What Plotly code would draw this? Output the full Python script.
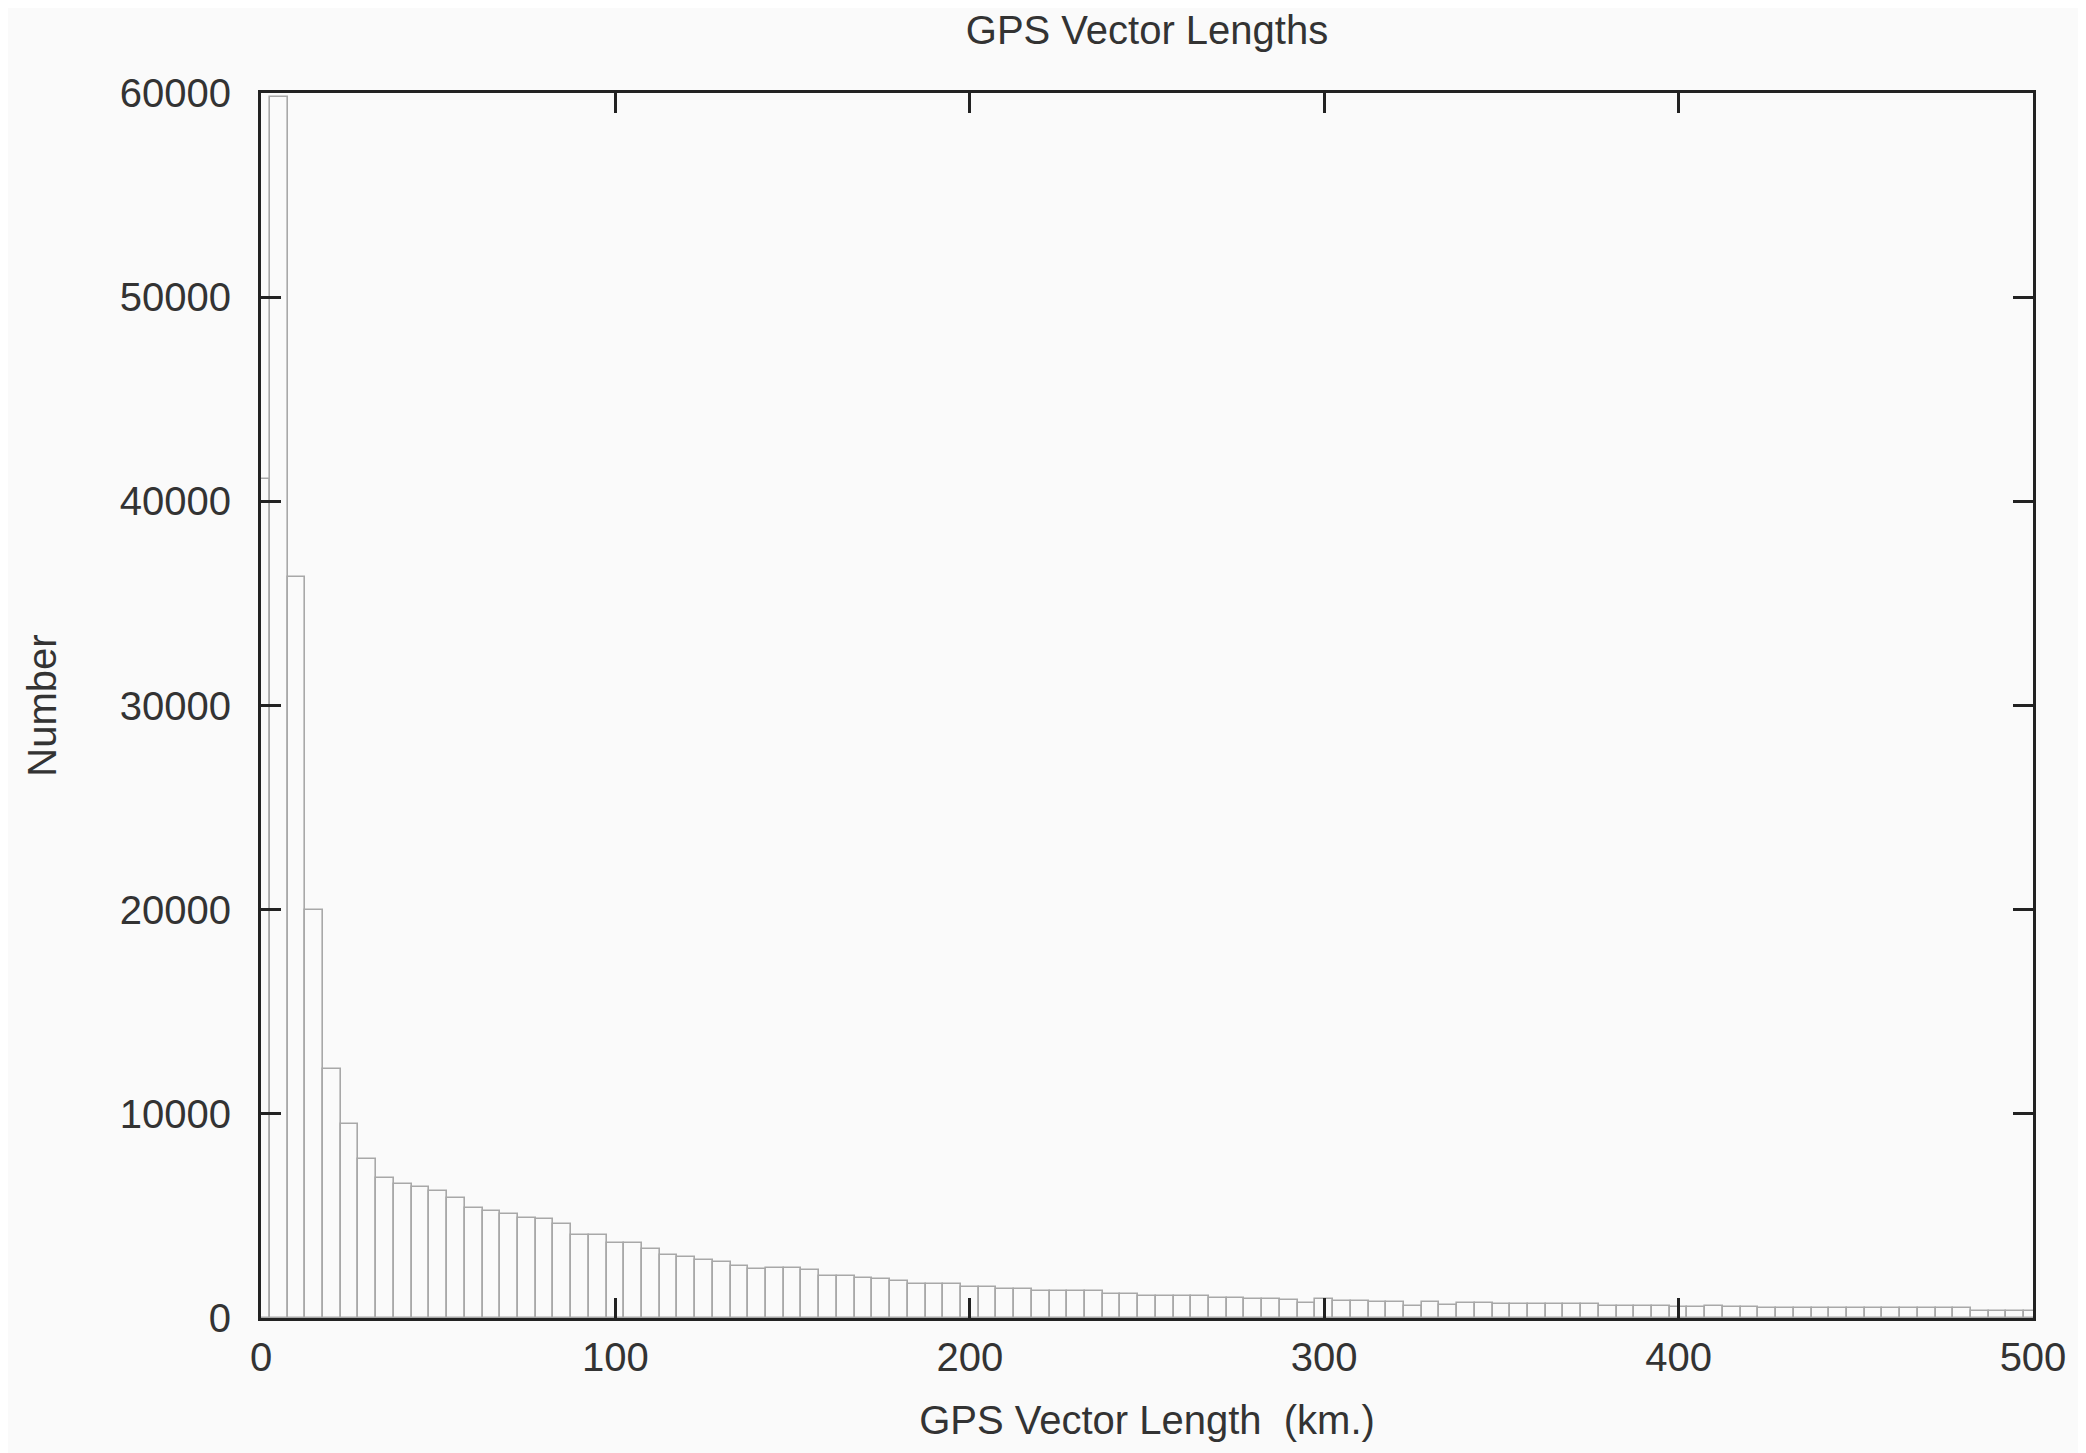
import plotly.graph_objects as go

# Histogram bin centres (km), bin width 5 km
bin_centers = list(range(0, 505, 5))
counts = [
    41100, 59800, 36300, 20000, 12200, 9500, 7800, 6850, 6580, 6400,
    6240, 5880, 5380, 5240, 5100, 4900, 4850, 4580, 4080, 4050,
    3660, 3660, 3400, 3100, 2970, 2855, 2720, 2560, 2400, 2450,
    2430, 2330, 2055, 2055, 1940, 1910, 1790, 1665, 1665, 1665,
    1530, 1530, 1420, 1420, 1305, 1300, 1300, 1340, 1175, 1175,
    1060, 1060, 1060, 1060, 995, 960, 930, 930, 900, 735,
    930, 815, 815, 770, 770, 605, 770, 655, 720, 720,
    670, 685, 685, 685, 685, 685, 570, 570, 570, 570,
    520, 520, 600, 520, 520, 490, 490, 475, 475, 475,
    475, 475, 475, 475, 475, 475, 475, 360, 360, 360,
    360,
]
bin_width = 5

x_ticks = [0, 100, 200, 300, 400, 500]
y_ticks = [0, 10000, 20000, 30000, 40000, 50000, 60000]

title_text = "GPS Vector Lengths"
x_title = "GPS Vector Length  (km.)"
y_title = "Number"

BG = "#fafafa"
FONT = dict(family="Liberation Sans, Arial, sans-serif", size=40, color="#333333")

fig = go.Figure()
fig.add_trace(go.Bar(
    x=bin_centers,
    y=counts,
    width=[bin_width] * len(bin_centers),
    marker=dict(color=BG, line=dict(color="#a8a8a8", width=1.6)),
    showlegend=False,
    hoverinfo="x+y",
))

axis_common = dict(
    showline=True,
    linecolor="#222222",
    linewidth=3,
    mirror="ticks",
    ticks="inside",
    ticklen=20,
    tickwidth=3,
    tickcolor="#222222",
    showgrid=False,
    zeroline=False,
    tickfont=FONT,
)

fig.update_layout(
    width=2086,
    height=1453,
    paper_bgcolor=BG,
    plot_bgcolor=BG,
    margin=dict(l=253, r=61, t=85, b=143, autoexpand=False),
    bargap=0,
    title=dict(
        text=title_text,
        x=0.5, xref="paper", xanchor="center",
        y=1 - 22 / 1453, yref="container", yanchor="middle",
        font=FONT,
    ),
    xaxis=dict(
        range=[0, 500],
        tickvals=x_ticks,
        ticktext=[str(v) for v in x_ticks],
        ticklabelstandoff=2,
        title=dict(text=x_title, font=FONT, standoff=28),
        **axis_common,
    ),
    yaxis=dict(
        range=[0, 60000],
        tickvals=y_ticks,
        ticktext=[str(v) for v in y_ticks],
        ticklabelstandoff=19,
        title=dict(text=y_title, font=FONT, standoff=51),
        **axis_common,
    ),
    font=FONT,
)

fig.write_html("out.html")
